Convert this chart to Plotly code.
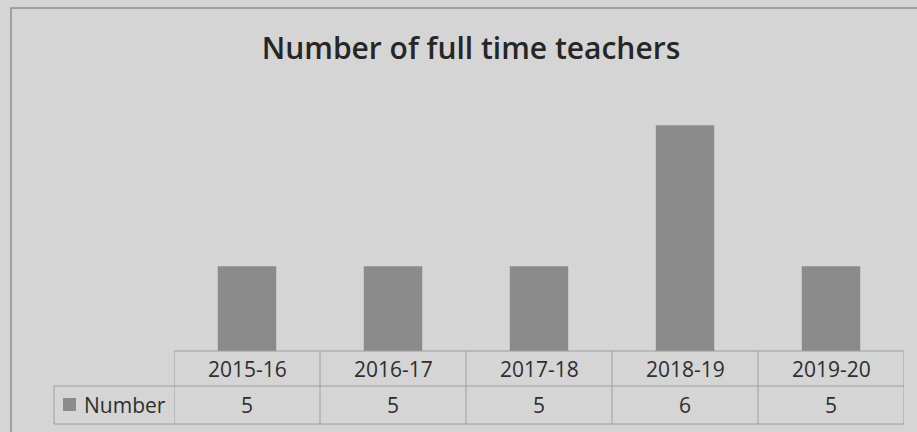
import plotly.graph_objects as go

years = ["2015-16", "2016-17", "2017-18", "2018-19", "2019-20"]
number = [5, 5, 5, 6, 5]
series_name = "Number"
title = "Number of full time teachers"

W, H = 917, 432
BG = "#d5d5d5"
BAR = "#8b8b8b"
LINE = "#9e9e9e"
TXT = "#2e2e2e"

def px(x):
    return x / W

def py(y):
    return 1 - y / H

fig = go.Figure()
fig.add_trace(go.Bar(x=list(range(len(years))), y=number, name=series_name,
                     marker=dict(color=BAR, line=dict(width=0)), width=0.4))

shapes = []
# outer chart border
shapes.append(dict(type="rect", xref="paper", yref="paper", x0=px(11), x1=px(940),
                   y0=py(460), y1=py(8), line=dict(color="#8f8f8f", width=1.5)))
n = len(years)
# table horizontal lines
shapes.append(dict(type="line", xref="x", yref="paper", x0=-0.5, x1=n - 0.5,
                   y0=py(351), y1=py(351), line=dict(color=LINE, width=1)))
for yy in (386, 424):
    shapes.append(dict(type="line", xref="paper", yref="paper", x0=px(54), x1=px(904),
                       y0=py(yy), y1=py(yy), line=dict(color=LINE, width=1)))
# vertical lines
for i in range(n + 1):
    shapes.append(dict(type="line", xref="x", yref="paper", x0=i - 0.5, x1=i - 0.5,
                       y0=py(424), y1=py(351), line=dict(color=LINE, width=1)))
shapes.append(dict(type="line", xref="paper", yref="paper", x0=px(54), x1=px(54),
                   y0=py(424), y1=py(386), line=dict(color=LINE, width=1)))
# legend key
shapes.append(dict(type="rect", xref="paper", yref="paper", x0=px(63), x1=px(76),
                   y0=py(411), y1=py(398), fillcolor=BAR, line=dict(width=0)))

FONT = dict(size=21, color=TXT, family="Open Sans")
annotations = []
for i, (yr, v) in enumerate(zip(years, number)):
    annotations.append(dict(x=i, xref="x", y=py(368.5), yref="paper", text=yr,
                            xanchor="center", yanchor="middle",
                            showarrow=False, font=FONT))
    annotations.append(dict(x=i, xref="x", y=py(405), yref="paper", text=str(v),
                            xanchor="center", yanchor="middle",
                            showarrow=False, font=FONT))
annotations.append(dict(x=px(82), xref="paper", y=py(405), yref="paper", text=series_name,
                        xanchor="left", yanchor="middle", showarrow=False, font=FONT))

fig.update_layout(
    width=W, height=H,
    margin=dict(l=0, r=0, t=0, b=0),
    paper_bgcolor=BG, plot_bgcolor=BG,
    showlegend=False,
    title=dict(text=title, x=px(471), xanchor="center", y=py(48), yanchor="middle",
               font=dict(size=30, color="#262626", family="Open Sans", weight=600)),
    xaxis=dict(domain=[px(174), px(904)], range=[-0.5, n - 0.5], showticklabels=False,
               showgrid=False, zeroline=False, showline=False, ticks=""),
    yaxis=dict(domain=[py(351), py(97)], range=[4.4, 6.2], showticklabels=False,
               showgrid=False, zeroline=False, showline=False, ticks=""),
    shapes=shapes,
    annotations=annotations,
)

fig.write_html("out.html", config={"displayModeBar": False},
               post_script="document.body.style.margin='0';document.body.style.overflow='hidden';")
